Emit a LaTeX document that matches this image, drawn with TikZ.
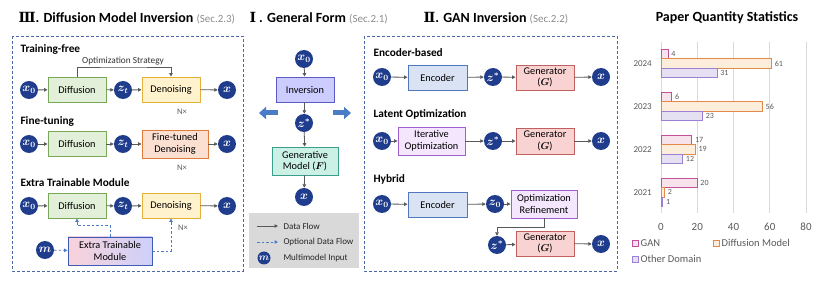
\documentclass[tikz,border=0pt]{standalone}
\usepackage[no-math]{fontspec}
\usepackage{bm}
\setmainfont{Carlito}
\newfontfamily\romfont{DejaVu Serif}
\usetikzlibrary{arrows.meta,calc}
\definecolor{navy}{HTML}{1F3D8C}
\definecolor{arrgray}{HTML}{595959}
\definecolor{pblue}{HTML}{4A68A8}
\definecolor{dblue}{HTML}{4A7CC8}
\definecolor{txtgray}{HTML}{595959}
\definecolor{secgray}{HTML}{8C8C8C}
\definecolor{grnfill}{HTML}{E2EFD9}\definecolor{grndraw}{HTML}{78A85A}
\definecolor{yelfill}{HTML}{FFF2CC}\definecolor{yeldraw}{HTML}{E3B23C}
\definecolor{orafill}{HTML}{FBE0D2}\definecolor{oradraw}{HTML}{E07B39}
\definecolor{blufill}{HTML}{DAE3F3}\definecolor{bludraw}{HTML}{4F78BF}
\definecolor{redfill}{HTML}{F9D3D1}\definecolor{reddraw}{HTML}{C0605F}
\definecolor{purfill}{HTML}{F3E6FD}\definecolor{purdraw}{HTML}{A05FD0}
\definecolor{invfill}{HTML}{CCCCFF}\definecolor{invdraw}{HTML}{5B5BC8}
\definecolor{tealfill}{HTML}{CBF1E6}\definecolor{tealdraw}{HTML}{3A9E88}
\definecolor{extl}{HTML}{F9D2DA}\definecolor{extr}{HTML}{CDD0FB}\definecolor{extdraw}{HTML}{3F5BB5}
\definecolor{blockblue}{HTML}{4A7CC8}
\definecolor{leggray}{HTML}{D9D9D9}
\definecolor{gridc}{HTML}{D9D9D9}
\definecolor{ganf}{HTML}{F7E3EC}\definecolor{gand}{HTML}{C2509B}
\definecolor{dmf}{HTML}{FDEEDB}\definecolor{dmd}{HTML}{E5894A}
\definecolor{otf}{HTML}{E5E1F2}\definecolor{otd}{HTML}{9C80D6}
\begin{document}
\begin{tikzpicture}[x=1pt,y=-1pt,
  var/.style={circle, fill=navy, text=white, minimum size=18pt, inner sep=0pt, font=\fontsize{12}{12}\selectfont},
  boxst/.style={draw, line width=0.9pt, align=center, inner sep=1pt, font=\fontsize{10.3}{11.5}\selectfont},
  arr/.style={draw=arrgray, line width=0.8pt, -{Triangle[length=3.5pt,width=3.5pt]}},
  darr/.style={draw=dblue, line width=0.8pt, dash pattern=on 2.5pt off 2pt, -{Triangle[length=3.5pt,width=3.5pt]}},
  panel/.style={draw=pblue, line width=0.8pt, dash pattern=on 3pt off 2pt},
  head/.style={anchor=west, font=\fontsize{11.3}{12}\selectfont\bfseries},
  ttl/.style={anchor=west, font=\fontsize{14}{15}\selectfont\bfseries},
  ntimes/.style={font=\fontsize{8.5}{9}\selectfont, text=txtgray},
  legtxt/.style={anchor=west, font=\fontsize{9}{10}\selectfont, text=black!85},
  blockarr/.style={draw=blockblue, line width=5pt, -{Triangle[length=7pt,width=12pt]}},
  ganbar/.style={draw=gand, fill=ganf, line width=0.8pt},
  dmbar/.style={draw=dmd, fill=dmf, line width=0.8pt},
  otbar/.style={draw=otd, fill=otf, line width=0.8pt},
  vlab/.style={anchor=west, font=\fontsize{8}{9}\selectfont, text=txtgray, inner sep=1pt},
  ylab/.style={anchor=east, font=\fontsize{9}{10}\selectfont, text=txtgray, inner sep=1pt},
  tick/.style={font=\fontsize{11}{12}\selectfont, text=txtgray},
  gridl/.style={draw=gridc, line width=0.7pt}
]
\useasboundingbox (0,0) rectangle (831,283);

% ---------- titles ----------
\node[ttl] (t3) at (15,18) {{\romfont Ⅲ}. Diffusion Model Inversion {\mdseries\fontsize{11}{12}\selectfont\color{secgray}(Sec.2.3)}};
\node[ttl] (t1) at (246,18) {{\romfont Ⅰ} . General Form {\mdseries\fontsize{11}{12}\selectfont\color{secgray}(Sec.2.1)}};
\node[ttl] (t2) at (420,18) {{\romfont Ⅱ}. GAN Inversion {\mdseries\fontsize{11}{12}\selectfont\color{secgray}(Sec.2.2)}};
\node[font=\fontsize{14}{15}\selectfont\bfseries] (t4) at (727,18) {Paper Quantity Statistics};

% ---------- left panel ----------
\draw[panel] (12,36) rectangle (243,271);
\node[head] (h1) at (17,49) {Training-free};
\node[head] (h2) at (17,121) {Fine-tuning};
\node[head] (h3) at (17,183) {Extra Trainable Module};

% row 1
\node[var] (a0) at (29,90) {$\bm{x}_{\bm 0}$};
\node[boxst, fill=grnfill, draw=grndraw, minimum width=58pt, minimum height=25pt] (ad) at (77,89.5) {Diffusion};
\node[var] (az) at (123,90) {$\bm{z}_{\bm t}$};
\node[boxst, fill=yelfill, draw=yeldraw, minimum width=58pt, minimum height=25pt] (an) at (171,89.5) {Denoising};
\node[var] (ax) at (227,90) {$\bm{x}$};
\draw[arr] (a0) -- (ad); \draw[arr] (ad) -- (az); \draw[arr] (az) -- (an); \draw[arr] (an) -- (ax);
\coordinate (os) at (123,67);
\draw[arr] (ad.north) |- (os) -| (an.north);
\node[font=\fontsize{9.3}{10}\selectfont, text=black!80] (osl) at (123,61) {Optimization Strategy};
\node[ntimes] (n1) at (182,112) {N×};

% row 2
\node[var] (b0) at (29,144) {$\bm{x}_{\bm 0}$};
\node[boxst, fill=grnfill, draw=grndraw, minimum width=58pt, minimum height=25pt] (bd) at (77,144) {Diffusion};
\node[var] (bz) at (123,144) {$\bm{z}_{\bm t}$};
\node[boxst, fill=orafill, draw=oradraw, minimum width=66pt, minimum height=28pt] (bn) at (175,144) {Fine-tuned\\Denoising};
\node[var] (bx) at (227,144) {$\bm{x}$};
\draw[arr] (b0) -- (bd); \draw[arr] (bd) -- (bz); \draw[arr] (bz) -- (bn); \draw[arr] (bn) -- (bx);
\node[ntimes] (n2) at (182,168) {N×};

% row 3
\node[var] (c0) at (29,206) {$\bm{x}_{\bm 0}$};
\node[boxst, fill=grnfill, draw=grndraw, minimum width=58pt, minimum height=25pt] (cd) at (77,205.5) {Diffusion};
\node[var] (cz) at (123,206) {$\bm{z}_{\bm t}$};
\node[boxst, fill=yelfill, draw=yeldraw, minimum width=58pt, minimum height=25pt] (cn) at (171,205.5) {Denoising};
\node[var] (cx) at (227,206) {$\bm{x}$};
\draw[arr] (c0) -- (cd); \draw[arr] (cd) -- (cz); \draw[arr] (cz) -- (cn); \draw[arr] (cn) -- (cx);
\node[ntimes] (n3) at (183,228) {N×};
\node[var] (cm) at (45,250) {$\bm{m}$};
\node[boxst, left color=extl, right color=extr, draw=extdraw, minimum width=84pt, minimum height=28pt] (ce) at (110,251) {Extra Trainable\\Module};
\draw[darr] (cm) -- (ce);
\draw[darr] (ce.north) -- ++(0,-11) -| (cd.south);
\draw[darr] (ce.east) -| (cn.south);

% ---------- middle panel ----------
\node[var] (m0) at (304,59) {$\bm{x}_{\bm 0}$};
\node[boxst, fill=invfill, draw=invdraw, minimum width=58pt, minimum height=25pt] (mi) at (305,89.5) {Inversion};
\node[var] (mz) at (304,123) {$\bm{z}^{\bm *}$};
\node[boxst, fill=tealfill, draw=tealdraw, minimum width=66pt, minimum height=28pt] (mg) at (305,161) {Generative\\Model ($\bm{F}$)};
\node[var] (mx) at (304,197) {$\bm{x}$};
\draw[arr] (m0) -- (mi); \draw[arr] (mi) -- (mz); \draw[arr] (mz) -- (mg); \draw[arr] (mg) -- (mx);
\coordinate (bl1) at (278,113); \coordinate (bl2) at (259,113);
\coordinate (br1) at (333,113); \coordinate (br2) at (351,113);
\draw[blockarr] (bl1) -- (bl2);
\draw[blockarr] (br1) -- (br2);
\node[fill=leggray, minimum width=110pt, minimum height=55pt, inner sep=0pt] (leg) at (304,240.5) {};
\coordinate (l1a) at (257,226); \coordinate (l1b) at (278,226);
\coordinate (l2a) at (257,242); \coordinate (l2b) at (278,242);
\draw[arr] (l1a) -- (l1b);
\draw[darr] (l2a) -- (l2b);
\node[legtxt] (lt1) at (280,226) {Data Flow};
\node[legtxt] (lt2) at (280,242) {Optional Data Flow};
\node[var, minimum size=13pt, font=\fontsize{10}{10}\selectfont] (lm) at (264,258) {$\bm{m}$};
\node[legtxt] (lt3) at (280,258) {Multimodel Input};

% ---------- GAN panel ----------
\draw[panel] (364,36) rectangle (617,271);
\node[head] (g1) at (370,53) {Encoder-based};
\node[head] (g2) at (370,114) {Latent Optimization};
\node[head] (g3) at (370,179) {Hybrid};

\node[var] (d0) at (382,77) {$\bm{x}_{\bm 0}$};
\node[boxst, fill=blufill, draw=bludraw, minimum width=59pt, minimum height=25pt] (de) at (437.5,77.5) {Encoder};
\node[var] (dz) at (493,77) {$\bm{z}^{\bm *}$};
\node[boxst, fill=redfill, draw=reddraw, minimum width=58pt, minimum height=25pt] (dg) at (545,77.5) {Generator\\($\bm{G}$)};
\node[var] (dx) at (601,77) {$\bm{x}$};
\draw[arr] (d0) -- (de); \draw[arr] (de) -- (dz); \draw[arr] (dz) -- (dg); \draw[arr] (dg) -- (dx);

\node[var] (e0) at (382,141) {$\bm{x}_{\bm 0}$};
\node[boxst, fill=purfill, draw=purdraw, minimum width=67pt, minimum height=28pt] (eo) at (431.5,141) {Iterative\\Optimization};
\node[var] (ez) at (493,141) {$\bm{z}^{\bm *}$};
\node[boxst, fill=redfill, draw=reddraw, minimum width=58pt, minimum height=26pt] (eg) at (545,141) {Generator\\($\bm{G}$)};
\node[var] (ex) at (601,141) {$\bm{x}$};
\draw[arr] (e0) -- (eo); \draw[arr] (eo) -- (ez); \draw[arr] (ez) -- (eg); \draw[arr] (eg) -- (ex);

\node[var] (f0) at (382,204) {$\bm{x}_{\bm 0}$};
\node[boxst, fill=blufill, draw=bludraw, minimum width=59pt, minimum height=25pt] (fe) at (437.5,204.5) {Encoder};
\node[var] (fz0) at (495,204) {$\bm{z}_{\bm 0}$};
\node[boxst, fill=purfill, draw=purdraw, minimum width=66pt, minimum height=28pt] (fr) at (544,204) {Optimization\\Refinement};
\node[var] (fz) at (497,245) {$\bm{z}^{\bm *}$};
\node[boxst, fill=redfill, draw=reddraw, minimum width=58pt, minimum height=25pt] (fg) at (545,243.5) {Generator\\($\bm{G}$)};
\node[var] (fx) at (601,244) {$\bm{x}$};
\draw[arr] (f0) -- (fe); \draw[arr] (fe) -- (fz0); \draw[arr] (fz0) -- (fr);
\draw[arr] (fr.south) -- ++(0,9) -| (fz.north);
\draw[arr] (fz) -- (fg); \draw[arr] (fg) -- (fx);

% ---------- chart ----------
\foreach \v in {0,20,40,60,80} {
  \draw[gridl] ({661+\v*1.8125},42) -- ({661+\v*1.8125},213);
  \node[tick] (tk\v) at ({661+\v*1.8125},227) {\v};
}
\foreach \yr/\c/\g/\d/\o in {2024/63.6/4/61/31, 2023/106.5/6/56/23, 2022/149.4/17/19/12, 2021/192.3/20/2/1} {
  \draw[ganbar] (661,{\c-14.25}) rectangle ({661+\g*1.8125},{\c-4.75});
  \draw[dmbar] (661,{\c-4.75}) rectangle ({661+\d*1.8125},{\c+4.75});
  \draw[otbar] (661,{\c+4.75}) rectangle ({661+\o*1.8125},{\c+14.25});
  \node[vlab] (vg\yr) at ({661+\g*1.8125+2},{\c-9.5}) {\g};
  \node[vlab] (vd\yr) at ({661+\d*1.8125+2},{\c}) {\d};
  \node[vlab] (vo\yr) at ({661+\o*1.8125+2},{\c+9.5}) {\o};
  \node[ylab] (y\yr) at (653,\c) {\yr};
}
\draw[ganbar] (632,240) rectangle (638,246);
\node[anchor=west, font=\fontsize{10.5}{11}\selectfont, text=txtgray, inner sep=1pt] (lg1) at (639.5,243.3) {GAN};
\draw[dmbar] (713,240) rectangle (719,246);
\node[anchor=west, font=\fontsize{10.5}{11}\selectfont, text=txtgray, inner sep=1pt] (lg2) at (720.5,243.3) {Diffusion Model};
\draw[otbar] (632,256) rectangle (638,262);
\node[anchor=west, font=\fontsize{10.5}{11}\selectfont, text=txtgray, inner sep=1pt] (lg3) at (639.5,259.3) {Other Domain};
\end{tikzpicture}
\end{document}
